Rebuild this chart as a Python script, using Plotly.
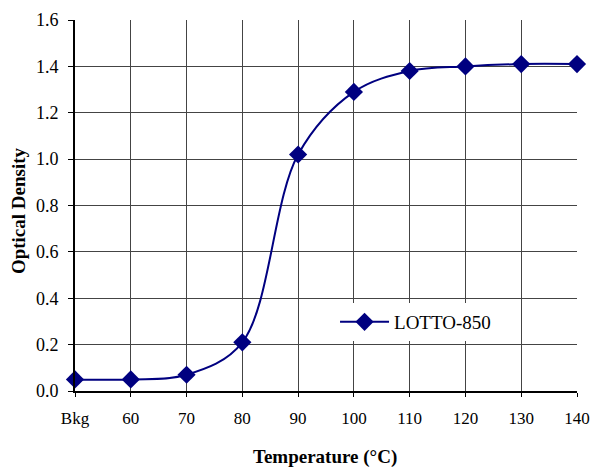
import plotly.graph_objects as go

categories = ["Bkg", "60", "70", "80", "90", "100", "110", "120", "130", "140"]
optical_density = [0.05, 0.05, 0.07, 0.21, 1.02, 1.29, 1.38, 1.40, 1.41, 1.41]
y_ticks = [0.0, 0.2, 0.4, 0.6, 0.8, 1.0, 1.2, 1.4, 1.6]

xpos = list(range(len(categories)))
navy = "#000080"
font = "Liberation Serif"

fig = go.Figure()
fig.add_trace(go.Scatter(
    x=xpos, y=optical_density, mode="lines+markers", name="LOTTO-850",
    line=dict(color=navy, width=2, shape="spline", smoothing=1.0),
    marker=dict(symbol="diamond", size=14, color=navy),
    cliponaxis=False,
))

fig.update_layout(
    width=591, height=471,
    margin=dict(l=75, r=14, t=20, b=80, autoexpand=False),
    paper_bgcolor="white", plot_bgcolor="white",
    font=dict(family=font, size=17, color="black"),
    showlegend=True,
    legend=dict(x=0.518, y=0.186, xanchor="left", yanchor="middle",
                bgcolor="white", font=dict(size=19, family=font),
                itemwidth=49),
    xaxis=dict(
        range=[0, len(categories) - 1],
        tickvals=xpos, ticktext=categories,
        showgrid=True, gridcolor="#444444", gridwidth=1,
        showline=True, linecolor="black", linewidth=2,
        ticks="outside", ticklen=4, tickcolor="black",
        zeroline=False, automargin=False,
        ticklabelstandoff=7, ticklabeloverflow="allow",
        tickfont=dict(size=17, family=font),
    ),
    yaxis=dict(
        range=[0, 1.6],
        tickvals=y_ticks, ticktext=[f"{v:.1f}" for v in y_ticks],
        showgrid=True, gridcolor="#444444", gridwidth=1,
        showline=True, linecolor="black", linewidth=2,
        ticks="outside", ticklen=5, tickcolor="black",
        zeroline=False, automargin=False,
        ticklabelstandoff=6,
        tickfont=dict(size=18, family=font),
    ),
    annotations=[
        dict(text="<b>Temperature (°C)</b>", xref="paper", yref="paper",
             x=0.498, y=-0.212, xanchor="center", yanchor="bottom",
             showarrow=False, font=dict(size=19, family=font)),
        dict(text="<b>Optical Density</b>", xref="paper", yref="paper",
             x=-0.1135, y=0.485, xanchor="center", yanchor="middle", textangle=-90,
             showarrow=False, font=dict(size=19, family=font)),
    ],
)

fig.write_html("out.html",
               config={"displayModeBar": False},
               post_script="document.body.style.margin='0';document.body.style.overflow='hidden';")
